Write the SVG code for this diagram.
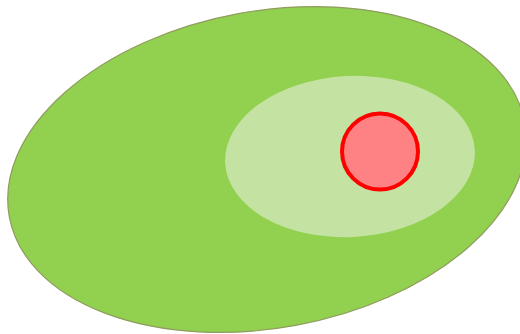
<svg xmlns="http://www.w3.org/2000/svg" width="520" height="334" viewBox="0 0 520 334">
<style>
.outer{fill:#92d050;stroke:#8f9c5e;stroke-width:1.2}
.inner{fill:#c4e3a2;stroke:none}
.core{fill:#fe8183;stroke:#ff0000;stroke-width:4}
</style>
<rect width="520" height="334" fill="#ffffff"/>
<g id="outer-region">
<ellipse class="outer" cx="267" cy="169.5" rx="262" ry="158.5" transform="rotate(-10.4 267 169.5)"/>
</g>
<g id="inner-region">
<ellipse class="inner" cx="350" cy="156.5" rx="125" ry="80.5" transform="rotate(-3 350 156.5)"/>
</g>
<g id="core">
<circle class="core" cx="380" cy="151.5" r="38"/>
</g>
<g id="connectors"/>
</svg>
